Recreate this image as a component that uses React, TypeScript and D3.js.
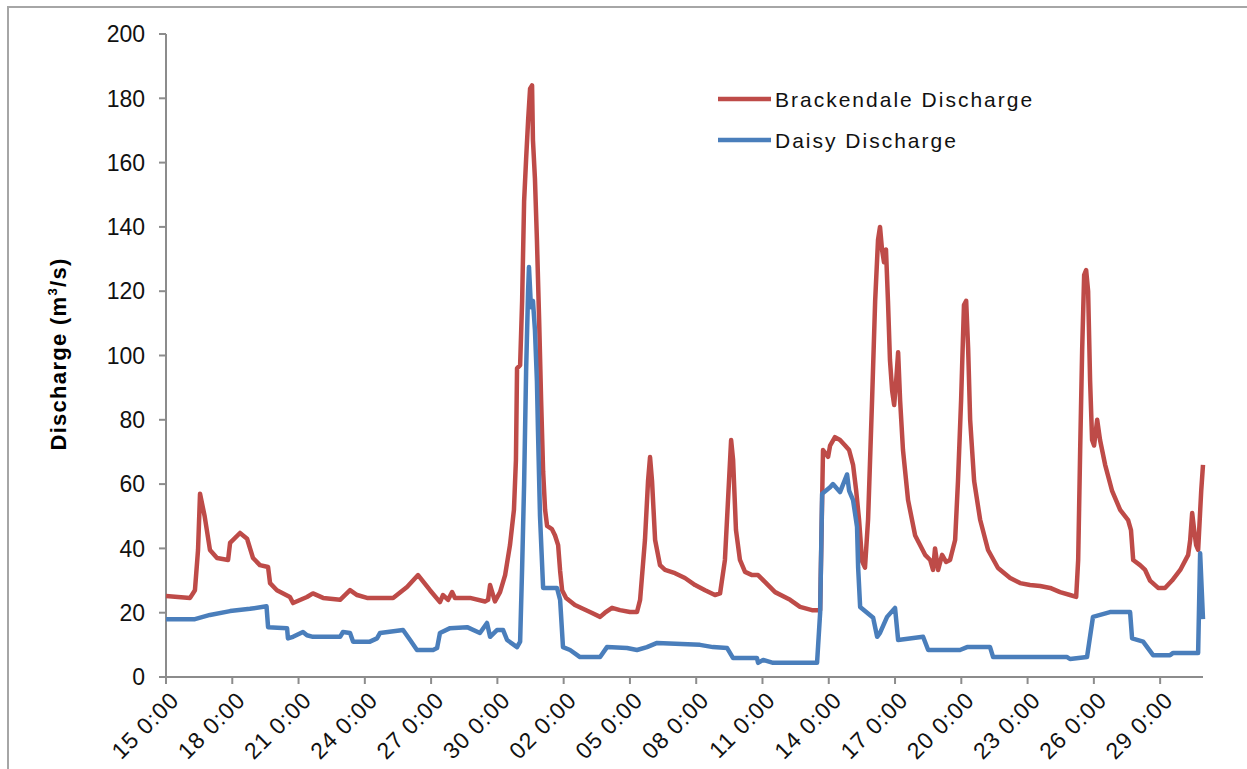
import * as d3 from "d3";

// Oct 15 0:00 is day 0; series are [day offset, discharge m3/s]
const startDate = Date.UTC(2009, 9, 15);
const endDay = 46.94;

const brackendale: [number, number][] = [
  [0, 25.2], [1.09, 24.6], [1.31, 27], [1.45, 39.5], [1.54, 57], [1.75, 50], [1.99, 39.5],
  [2.31, 37], [2.81, 36.4], [2.9, 41.7], [3.35, 44.8], [3.67, 43], [3.94, 37], [4.25, 34.8],
  [4.62, 34.2], [4.71, 29.2], [5.02, 27], [5.61, 24.9], [5.75, 23], [6.38, 24.9], [6.65, 26],
  [7.11, 24.6], [7.88, 24], [8.33, 27], [8.65, 25.5], [9.1, 24.6], [10.28, 24.6], [10.91, 28],
  [11.41, 31.7], [11.95, 27], [12.4, 23.3], [12.54, 25.5], [12.77, 24], [12.95, 26.4],
  [13.08, 24.6], [13.76, 24.6], [14.44, 23.5], [14.58, 24], [14.67, 28.6], [14.89, 23.5],
  [15.12, 26.4], [15.35, 31.7], [15.57, 41], [15.75, 52], [15.84, 67.5], [15.89, 96],
  [16.03, 97], [16.12, 117], [16.21, 148], [16.3, 161], [16.39, 173], [16.48, 183],
  [16.57, 184], [16.61, 167], [16.7, 155], [16.79, 136], [16.89, 111], [16.98, 86],
  [17.07, 64], [17.16, 52], [17.25, 47], [17.47, 46], [17.61, 44], [17.75, 41], [17.84, 33],
  [17.93, 27], [18.11, 24.6], [18.51, 22.4], [19.19, 20.2], [19.65, 18.7], [19.87, 20],
  [20.19, 21.5], [20.55, 20.8], [21.0, 20.2], [21.32, 20.2], [21.46, 24], [21.68, 42.6],
  [21.82, 61], [21.91, 68.4], [22.0, 61], [22.14, 42.6], [22.36, 34.8], [22.59, 33.3],
  [23.04, 32.3], [23.49, 30.8], [23.95, 28.6], [24.4, 27], [24.85, 25.5], [25.08, 26],
  [25.3, 36.4], [25.44, 55], [25.58, 73.7], [25.67, 67.5], [25.8, 45.7], [25.98, 36.4],
  [26.21, 32.7], [26.53, 31.7], [26.8, 31.7], [27.12, 29.5], [27.57, 26.4], [28.25, 24],
  [28.7, 21.8], [29.24, 20.8], [29.61, 20.8], [29.74, 70.6], [29.97, 68.5], [30.06, 72],
  [30.28, 74.6], [30.51, 73.7], [30.74, 72], [30.92, 70.6], [31.1, 66], [31.24, 58],
  [31.37, 49], [31.51, 36], [31.64, 34], [31.78, 49], [31.96, 86], [32.1, 117], [32.23, 136],
  [32.32, 140], [32.41, 133], [32.5, 129], [32.59, 133], [32.68, 117], [32.77, 98.6],
  [32.87, 89], [32.96, 84.6], [33.05, 92], [33.14, 101], [33.23, 86], [33.36, 70.6],
  [33.59, 55], [33.91, 44], [34.36, 38], [34.59, 36.4], [34.72, 33.3], [34.81, 40],
  [34.95, 33.3], [35.13, 38], [35.31, 35.8], [35.49, 36.4], [35.72, 42.6], [35.85, 61],
  [35.99, 86], [36.12, 115.7], [36.22, 117], [36.31, 102], [36.4, 80], [36.58, 61],
  [36.85, 49], [37.21, 39.5], [37.66, 33.9], [38.21, 30.8], [38.66, 29.2], [39.11, 28.6],
  [39.57, 28.3], [40.02, 27.7], [40.47, 26.4], [40.92, 25.5], [41.2, 24.9], [41.29, 36.4],
  [41.38, 70.6], [41.47, 101.7], [41.56, 125], [41.65, 126.6], [41.74, 120], [41.83, 92],
  [41.92, 73.7], [42.01, 72], [42.15, 80], [42.28, 73.7], [42.51, 66], [42.82, 58],
  [43.19, 52], [43.55, 48.8], [43.68, 45.7], [43.78, 36.4], [44.09, 34.8], [44.32, 33.3],
  [44.54, 30], [44.91, 27.7], [45.22, 27.7], [45.54, 30], [45.91, 33.3], [46.27, 38],
  [46.36, 42.6], [46.45, 51], [46.54, 45.7], [46.63, 41], [46.72, 39.5], [46.86, 58],
  [46.94, 66],
];

const daisy: [number, number][] = [
  [0, 18], [1.31, 18], [1.99, 19.3], [2.9, 20.5], [3.8, 21.2], [4.55, 22], [4.62, 15.5],
  [5.48, 15.2], [5.52, 12], [5.75, 12.5], [6.2, 14], [6.38, 13], [6.65, 12.5], [7.88, 12.5],
  [8.01, 14], [8.33, 13.7], [8.47, 11], [9.23, 11], [9.55, 12], [9.69, 13.7], [10.73, 14.6],
  [11.05, 11.5], [11.36, 8.4], [12.09, 8.4], [12.27, 9], [12.4, 13.7], [12.86, 15.2],
  [13.63, 15.5], [14.21, 13.7], [14.53, 16.8], [14.67, 12.5], [14.98, 14.6], [15.26, 14.6],
  [15.44, 11.5], [15.89, 9.3], [16.03, 11], [16.12, 34], [16.21, 60], [16.3, 95],
  [16.39, 120], [16.43, 127.5], [16.52, 115], [16.61, 117], [16.7, 108], [16.79, 92],
  [16.84, 76], [16.93, 50], [17.07, 27.7], [17.7, 27.7], [17.84, 24], [17.97, 9.3],
  [18.29, 8.4], [18.74, 6.2], [19.65, 6.2], [19.96, 9.3], [20.87, 9], [21.32, 8.4],
  [21.77, 9.3], [22.23, 10.6], [24.17, 10], [24.76, 9.3], [25.4, 9], [25.67, 5.9],
  [26.75, 5.9], [26.8, 4.4], [27.03, 5.3], [27.48, 4.4], [29.47, 4.4], [29.61, 20],
  [29.7, 57], [30.06, 59], [30.19, 60], [30.51, 57.5], [30.83, 63], [30.92, 58], [31.1, 55],
  [31.28, 46.7], [31.33, 34], [31.42, 21.8], [32.01, 18.4], [32.19, 12.5], [32.32, 13.7],
  [32.64, 18.7], [33.0, 21.5], [33.14, 11.5], [34.27, 12.5], [34.5, 8.4], [35.94, 8.4],
  [36.26, 9.3], [37.3, 9.3], [37.44, 6.2], [40.79, 6.2], [40.92, 5.6], [41.69, 6.2],
  [41.96, 18.7], [42.73, 20.2], [43.64, 20.2], [43.73, 12], [44.23, 11], [44.68, 6.8],
  [45.45, 6.8], [45.59, 7.5], [46.72, 7.5], [46.81, 38.5], [46.94, 18],
];

const yTicks = [0, 20, 40, 60, 80, 100, 120, 140, 160, 180, 200];
const xTickDays = [0, 3, 6, 9, 12, 15, 18, 21, 24, 27, 30, 33, 36, 39, 42, 45];

const seriesNames = ["Brackendale Discharge", "Daisy Discharge"];
const seriesColors = ["#BE4B48", "#4A7EBB"];

const width = 1247;
const height = 769;
const margin = { top: 34, left: 166, right: 44, bottom: 92 };

const toDate = (d: number) => new Date(startDate + d * 86400000);
const formatTick = d3.utcFormat("%d %-H:%M");

export default function App() {
  const innerW = width - margin.left - margin.right;
  const innerH = height - margin.top - margin.bottom;

  const xScale = d3
    .scaleUtc()
    .domain([toDate(0), toDate(endDay)])
    .range([0, innerW]);
  const yScale = d3.scaleLinear().domain([0, 200]).range([innerH, 0]);

  const line = d3
    .line<[number, number]>()
    .x((d) => xScale(toDate(d[0])))
    .y((d) => yScale(d[1]));

  const font = "'Liberation Sans', Arial, sans-serif";

  return (
    <svg
      width={width}
      height={height}
      style={{ position: "absolute", left: 0, top: 0, background: "#fff" }}
      fontFamily={font}
    >
      <rect x={8} y={7} width={1300} height={900} fill="#fff" stroke="#a6a6a6" strokeWidth={2} />
      <text
        transform={`translate(66,354) rotate(-90)`}
        textAnchor="middle"
        fontWeight="bold"
        fontSize={22}
        letterSpacing={1.3}
      >
        Discharge (m
        <tspan fontSize={13} dy={-9}>3</tspan>
        <tspan dy={9}>/s)</tspan>
      </text>
      <g transform={`translate(${margin.left},${margin.top})`}>
        {/* y axis */}
        <line x1={0} x2={0} y1={0} y2={innerH} stroke="#8c8c8c" strokeWidth={2} />
        {yTicks.map((t) => (
          <g key={t} transform={`translate(0,${yScale(t)})`}>
            <line x1={-7} x2={0} stroke="#8c8c8c" strokeWidth={2} />
            <text x={-21} dy="0.36em" textAnchor="end" fontSize={23} fill="#111">
              {t}
            </text>
          </g>
        ))}
        {/* x axis */}
        <line x1={0} x2={innerW} y1={innerH} y2={innerH} stroke="#8c8c8c" strokeWidth={2} />
        {xTickDays.map((d) => {
          const x = xScale(toDate(d));
          return (
            <g key={d} transform={`translate(${x},${innerH})`}>
              <line y1={0} y2={7} stroke="#8c8c8c" strokeWidth={2} />
              <text
                transform="translate(3,13) rotate(-45)"
                textAnchor="end"
                dy="0.7em"
                fontSize={23}
                letterSpacing={1}
                fill="#111"
              >
                {formatTick(toDate(d))}
              </text>
            </g>
          );
        })}
        {/* series */}
        {[brackendale, daisy].map((s, i) => (
          <path
            key={seriesNames[i]}
            d={line(s) ?? ""}
            fill="none"
            stroke={seriesColors[i]}
            strokeWidth={4.5}
            strokeLinejoin="round"
          />
        ))}
      </g>
      {/* legend */}
      {seriesNames.map((n, i) => (
        <g key={n} transform={`translate(718,${99 + i * 41})`}>
          <line x1={0} x2={53} stroke={seriesColors[i]} strokeWidth={4.5} />
          <text x={57} dy="0.36em" fontSize={21} letterSpacing={2} fill="#111">
            {n}
          </text>
        </g>
      ))}
    </svg>
  );
}
